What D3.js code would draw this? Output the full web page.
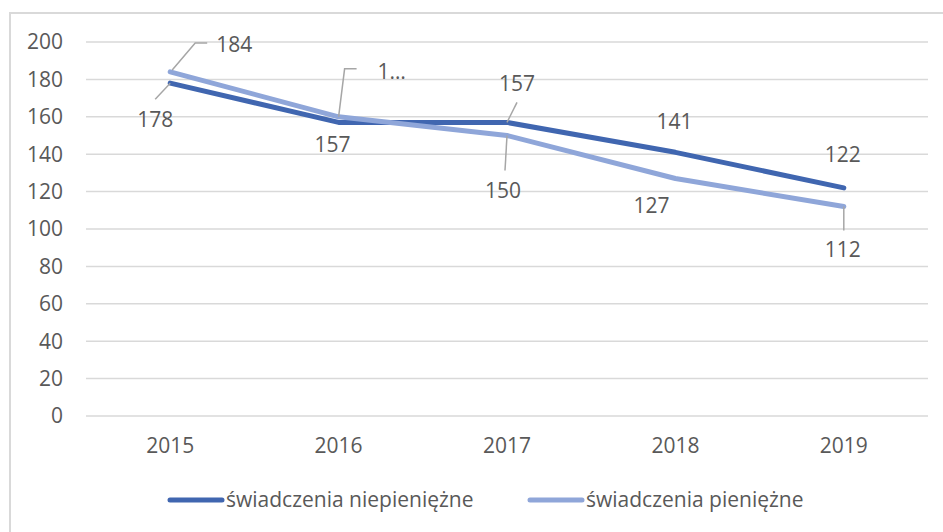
<!DOCTYPE html>
<html>
<head>
<meta charset="utf-8">
<script src="https://cdn.jsdelivr.net/npm/d3@7"></script>
<style>
  body { margin: 0; background: #fff; }
  text { font-family: "Open Sans", "DejaVu Sans", sans-serif; fill: #595959; }
</style>
</head>
<body>
<svg id="chart" width="943" height="532"></svg>
<script>
// data
var years = ["2015", "2016", "2017", "2018", "2019"];
var niepieniezne = [178, 157, 157, 141, 122];
var pieniezne = [184, 160, 150, 127, 112];
var seriesNames = ["świadczenia niepieniężne", "świadczenia pieniężne"];
var yTicks = [0, 20, 40, 60, 80, 100, 120, 140, 160, 180, 200];

var fontSize = "21px";

// label placement (offsets from the point), like Excel put them
var darkLabels = [
  { dx: -15, dy: 37, leader: [[0, 0], [-15, 16]] },
  { dx: -6, dy: 22 },
  { dx: 10, dy: -39, leader: [[0, 0], [10, -20]] },
  { dx: -1, dy: -31 },
  { dx: -1, dy: -33 }
];
var lightLabels = [
  { dx: 46, dy: -27, anchor: "start", leader: [[2, -2], [25, -29], [37, -29]] },
  { dx: 39, dy: -45, anchor: "start", cut: true, leader: [[0, 0], [6, -48], [18, -48]] },
  { dx: -4, dy: 55, leader: [[0, 0], [-2, 35]] },
  { dx: -24, dy: 27 },
  { dx: -1, dy: 43, leader: [[0, 0], [0, 24]] }
];

var colors = ["#4066b0", "#8fa6d9"];

var svg = d3.select("#chart");

// chart frame (only left/top visible in the crop)
svg.append("rect")
  .attr("x", 10).attr("y", 13)
  .attr("width", 960).attr("height", 540)
  .attr("fill", "none")
  .attr("stroke", "#d9d9d9")
  .attr("stroke-width", 2);

var x = d3.scaleBand().domain(years).range([86, 928]);
var y = d3.scaleLinear().domain([0, 200]).range([416, 42]);
function px(d) { return x(d) + x.bandwidth() / 2; }

// gridlines
svg.append("g").selectAll("line")
  .data(yTicks)
  .join("line")
  .attr("x1", 86).attr("x2", 928)
  .attr("y1", function(d) { return y(d); })
  .attr("y2", function(d) { return y(d); })
  .attr("stroke", "#d9d9d9")
  .attr("stroke-width", 1.5);

// y tick labels
svg.append("g").selectAll("text")
  .data(yTicks)
  .join("text")
  .attr("x", 63)
  .attr("y", function(d) { return y(d); })
  .attr("dy", "0.35em")
  .attr("text-anchor", "end")
  .style("font-size", fontSize)
  .text(function(d) { return d; });

// x tick labels
svg.append("g").selectAll("text")
  .data(years)
  .join("text")
  .attr("x", px)
  .attr("y", 446)
  .attr("dy", "0.35em")
  .attr("text-anchor", "middle")
  .style("font-size", fontSize)
  .text(function(d) { return d; });

var line = d3.line()
  .x(function(d) { return px(d.year); })
  .y(function(d) { return y(d.value); });

function toPoints(values) {
  return values.map(function(v, i) { return { year: years[i], value: v }; });
}

var series = [
  { values: toPoints(niepieniezne), color: colors[0], labels: darkLabels },
  { values: toPoints(pieniezne), color: colors[1], labels: lightLabels }
];

series.forEach(function(s) {
  svg.append("path")
    .datum(s.values)
    .attr("d", line)
    .attr("fill", "none")
    .attr("stroke", s.color)
    .attr("stroke-width", 5)
    .attr("stroke-linecap", "round")
    .attr("stroke-linejoin", "round");
});

// leader lines + data labels
series.forEach(function(s) {
  s.values.forEach(function(d, i) {
    var lab = s.labels[i];
    var cx = px(d.year), cy = y(d.value);
    if (lab.leader) {
      svg.append("polyline")
        .attr("points", lab.leader.map(function(p) { return [cx + p[0], cy + p[1]].join(","); }).join(" "))
        .attr("fill", "none")
        .attr("stroke", "#a6a6a6")
        .attr("stroke-width", 1.5);
    }
    svg.append("text")
      .attr("x", cx + lab.dx)
      .attr("y", cy + lab.dy)
      .attr("dy", "0.35em")
      .attr("text-anchor", lab.anchor || "middle")
      .style("font-size", fontSize)
      .text(lab.cut ? String(d.value).charAt(0) + "…" : d.value);
  });
});

// legend
var legendItems = [
  { name: seriesNames[0], color: colors[0], x: 168 },
  { name: seriesNames[1], color: colors[1], x: 528 }
];
var lg = svg.append("g").selectAll("g")
  .data(legendItems)
  .join("g")
  .attr("transform", function(d) { return "translate(" + d.x + ",500)"; });
lg.append("line")
  .attr("x1", 2).attr("x2", 54)
  .attr("stroke", function(d) { return d.color; })
  .attr("stroke-width", 5)
  .attr("stroke-linecap", "round");
lg.append("text")
  .attr("x", 58)
  .attr("dy", "0.35em")
  .style("font-size", fontSize)
  .text(function(d) { return d.name; });
</script>
</body>
</html>
